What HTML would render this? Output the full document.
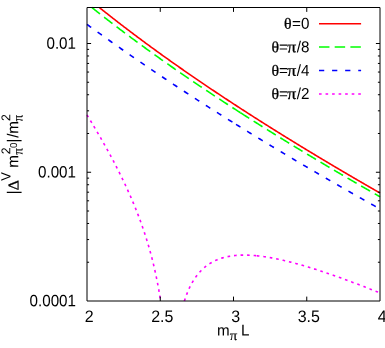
<!DOCTYPE html>
<html><head><meta charset="utf-8"><title>plot</title>
<style>html,body{margin:0;padding:0;background:#fff}svg{display:block}text{font-family:"Liberation Sans",sans-serif;fill:#000}.s{font-family:"Liberation Serif",serif;stroke:#000;stroke-width:0.3px}.t{font-family:"Liberation Serif",serif;stroke:#000;stroke-width:0.12px}</style></head><body>
<svg width="385" height="348" viewBox="0 0 385 348" style="will-change:transform">
<rect width="385" height="348" fill="#fff"/>
<path d="M99.35,7.50 L99.45,7.58 L100.18,8.17 L100.92,8.76 L101.65,9.34 L102.38,9.93 L103.11,10.51 L103.85,11.09 L104.58,11.67 L105.31,12.26 L106.04,12.84 L106.78,13.42 L107.51,13.99 L108.24,14.57 L108.97,15.15 L109.71,15.72 L110.44,16.30 L111.17,16.87 L111.90,17.45 L112.64,18.02 L113.37,18.59 L114.10,19.16 L114.83,19.73 L115.57,20.30 L116.30,20.87 L117.03,21.44 L117.76,22.01 L118.50,22.58 L119.23,23.14 L119.96,23.71 L120.69,24.27 L121.43,24.83 L122.16,25.40 L122.89,25.96 L123.62,26.52 L124.36,27.08 L125.09,27.64 L125.82,28.20 L126.56,28.76 L127.29,29.32 L128.02,29.87 L128.75,30.43 L129.49,30.98 L130.22,31.54 L130.95,32.09 L131.68,32.65 L132.42,33.20 L133.15,33.75 L133.88,34.30 L134.61,34.85 L135.35,35.40 L136.08,35.95 L136.81,36.50 L137.54,37.05 L138.28,37.59 L139.01,38.14 L139.74,38.69 L140.47,39.23 L141.21,39.77 L141.94,40.32 L142.67,40.86 L143.40,41.40 L144.14,41.94 L144.87,42.49 L145.60,43.03 L146.33,43.57 L147.07,44.10 L147.80,44.64 L148.53,45.18 L149.26,45.72 L150.00,46.25 L150.73,46.79 L151.46,47.33 L152.19,47.86 L152.93,48.39 L153.66,48.93 L154.39,49.46 L155.12,49.99 L155.86,50.52 L156.59,51.05 L157.32,51.58 L158.05,52.11 L158.79,52.64 L159.52,53.17 L160.25,53.70 L160.98,54.23 L161.71,54.75 L162.45,55.28 L163.18,55.80 L163.91,56.33 L164.65,56.85 L165.38,57.38 L166.11,57.90 L166.84,58.42 L167.57,58.94 L168.31,59.47 L169.04,59.99 L169.77,60.51 L170.51,61.03 L171.24,61.55 L171.97,62.06 L172.70,62.58 L173.43,63.10 L174.17,63.62 L174.90,64.13 L175.63,64.65 L176.36,65.16 L177.10,65.68 L177.83,66.19 L178.56,66.71 L179.29,67.22 L180.03,67.73 L180.76,68.24 L181.49,68.76 L182.22,69.27 L182.96,69.78 L183.69,70.29 L184.42,70.80 L185.15,71.31 L185.89,71.81 L186.62,72.32 L187.35,72.83 L188.08,73.34 L188.82,73.84 L189.55,74.35 L190.28,74.85 L191.01,75.36 L191.75,75.86 L192.48,76.37 L193.21,76.87 L193.94,77.37 L194.68,77.87 L195.41,78.38 L196.14,78.88 L196.88,79.38 L197.61,79.88 L198.34,80.38 L199.07,80.88 L199.81,81.38 L200.54,81.88 L201.27,82.37 L202.00,82.87 L202.74,83.37 L203.47,83.86 L204.20,84.36 L204.93,84.86 L205.67,85.35 L206.40,85.85 L207.13,86.34 L207.86,86.83 L208.60,87.33 L209.33,87.82 L210.06,88.31 L210.79,88.80 L211.53,89.30 L212.26,89.79 L212.99,90.28 L213.72,90.77 L214.46,91.26 L215.19,91.75 L215.92,92.24 L216.65,92.72 L217.39,93.21 L218.12,93.70 L218.85,94.19 L219.58,94.67 L220.32,95.16 L221.05,95.64 L221.78,96.13 L222.51,96.61 L223.25,97.10 L223.98,97.58 L224.71,98.07 L225.44,98.55 L226.18,99.03 L226.91,99.52 L227.64,100.00 L228.37,100.48 L229.10,100.96 L229.84,101.44 L230.57,101.92 L231.30,102.40 L232.04,102.88 L232.77,103.36 L233.50,103.84 L234.23,104.32 L234.96,104.79 L235.70,105.27 L236.43,105.75 L237.16,106.23 L237.90,106.70 L238.63,107.18 L239.36,107.65 L240.09,108.13 L240.82,108.60 L241.56,109.08 L242.29,109.55 L243.02,110.02 L243.76,110.50 L244.49,110.97 L245.22,111.44 L245.95,111.91 L246.68,112.39 L247.42,112.86 L248.15,113.33 L248.88,113.80 L249.62,114.27 L250.35,114.74 L251.08,115.21 L251.81,115.68 L252.54,116.15 L253.28,116.61 L254.01,117.08 L254.74,117.55 L255.48,118.02 L256.21,118.48 L256.94,118.95 L257.67,119.42 L258.40,119.88 L259.14,120.35 L259.87,120.81 L260.60,121.28 L261.33,121.74 L262.07,122.21 L262.80,122.67 L263.53,123.13 L264.26,123.60 L265.00,124.06 L265.73,124.52 L266.46,124.98 L267.19,125.44 L267.93,125.90 L268.66,126.37 L269.39,126.83 L270.12,127.29 L270.86,127.75 L271.59,128.21 L272.32,128.66 L273.06,129.12 L273.79,129.58 L274.52,130.04 L275.25,130.50 L275.99,130.96 L276.72,131.41 L277.45,131.87 L278.18,132.33 L278.92,132.78 L279.65,133.24 L280.38,133.69 L281.11,134.15 L281.85,134.60 L282.58,135.06 L283.31,135.51 L284.04,135.97 L284.77,136.42 L285.51,136.87 L286.24,137.33 L286.97,137.78 L287.71,138.23 L288.44,138.68 L289.17,139.14 L289.90,139.59 L290.63,140.04 L291.37,140.49 L292.10,140.94 L292.83,141.39 L293.57,141.84 L294.30,142.29 L295.03,142.74 L295.76,143.19 L296.49,143.64 L297.23,144.08 L297.96,144.53 L298.69,144.98 L299.43,145.43 L300.16,145.87 L300.89,146.32 L301.62,146.77 L302.35,147.21 L303.09,147.66 L303.82,148.11 L304.55,148.55 L305.29,149.00 L306.02,149.44 L306.75,149.89 L307.48,150.33 L308.21,150.77 L308.95,151.22 L309.68,151.66 L310.41,152.10 L311.15,152.55 L311.88,152.99 L312.61,153.43 L313.34,153.87 L314.07,154.31 L314.81,154.76 L315.54,155.20 L316.27,155.64 L317.01,156.08 L317.74,156.52 L318.47,156.96 L319.20,157.40 L319.93,157.84 L320.67,158.28 L321.40,158.72 L322.13,159.15 L322.87,159.59 L323.60,160.03 L324.33,160.47 L325.06,160.91 L325.79,161.34 L326.53,161.78 L327.26,162.22 L327.99,162.65 L328.73,163.09 L329.46,163.53 L330.19,163.96 L330.92,164.40 L331.65,164.83 L332.39,165.27 L333.12,165.70 L333.85,166.14 L334.58,166.57 L335.32,167.00 L336.05,167.44 L336.78,167.87 L337.51,168.30 L338.25,168.74 L338.98,169.17 L339.71,169.60 L340.44,170.03 L341.18,170.47 L341.91,170.90 L342.64,171.33 L343.38,171.76 L344.11,172.19 L344.84,172.62 L345.57,173.05 L346.31,173.48 L347.04,173.91 L347.77,174.34 L348.50,174.77 L349.24,175.20 L349.97,175.63 L350.70,176.06 L351.43,176.49 L352.17,176.91 L352.90,177.34 L353.63,177.77 L354.36,178.20 L355.10,178.62 L355.83,179.05 L356.56,179.48 L357.29,179.90 L358.03,180.33 L358.76,180.76 L359.49,181.18 L360.22,181.61 L360.96,182.03 L361.69,182.46 L362.42,182.88 L363.15,183.31 L363.88,183.73 L364.62,184.16 L365.35,184.58 L366.08,185.00 L366.81,185.43 L367.55,185.85 L368.28,186.27 L369.01,186.70 L369.74,187.12 L370.48,187.54 L371.21,187.96 L371.94,188.39 L372.68,188.81 L373.41,189.23 L374.14,189.65 L374.87,190.07 L375.60,190.49 L376.34,190.91 L377.07,191.33 L377.80,191.75 L378.54,192.17 L379.27,192.59 L380.00,193.01" fill="none" stroke="#ff0000" stroke-width="1.60"/>
<path d="M91.82,7.50 L92.13,7.74 L92.86,8.33 L93.59,8.91 L94.32,9.49 L95.06,10.07 L95.79,10.64 L96.52,11.22 L97.25,11.80 L97.99,12.37 L98.72,12.95 L99.45,13.52 L100.18,14.10 L100.92,14.67 L101.65,15.24 L102.38,15.81 L103.11,16.38 L103.85,16.95 L104.58,17.52 L105.31,18.09 L106.04,18.66 L106.78,19.22 L107.51,19.79 L108.24,20.36 L108.97,20.92 L109.71,21.48 L110.44,22.05 L111.17,22.61 L111.90,23.17 L112.64,23.73 L113.37,24.29 L114.10,24.85 L114.83,25.41 L115.57,25.97 L116.30,26.52 L117.03,27.08 L117.76,27.64 L118.50,28.19 L119.23,28.75 L119.96,29.30 L120.69,29.85 L121.43,30.40 L122.16,30.96 L122.89,31.51 L123.62,32.06 L124.36,32.61 L125.09,33.16 L125.82,33.70 L126.56,34.25 L127.29,34.80 L128.02,35.34 L128.75,35.89 L129.49,36.43 L130.22,36.98 L130.95,37.52 L131.68,38.06 L132.42,38.61 L133.15,39.15 L133.88,39.69 L134.61,40.23 L135.35,40.77 L136.08,41.31 L136.81,41.85 L137.54,42.38 L138.28,42.92 L139.01,43.46 L139.74,43.99 L140.47,44.53 L141.21,45.06 L141.94,45.60 L142.67,46.13 L143.40,46.66 L144.14,47.20 L144.87,47.73 L145.60,48.26 L146.33,48.79 L147.07,49.32 L147.80,49.85 L148.53,50.38 L149.26,50.91 L150.00,51.43 L150.73,51.96 L151.46,52.49 L152.19,53.01 L152.93,53.54 L153.66,54.06 L154.39,54.59 L155.12,55.11 L155.86,55.63 L156.59,56.15 L157.32,56.68 L158.05,57.20 L158.79,57.72 L159.52,58.24 L160.25,58.76 L160.98,59.28 L161.71,59.80 L162.45,60.31 L163.18,60.83 L163.91,61.35 L164.65,61.86 L165.38,62.38 L166.11,62.89 L166.84,63.41 L167.57,63.92 L168.31,64.44 L169.04,64.95 L169.77,65.46 L170.51,65.97 L171.24,66.49 L171.97,67.00 L172.70,67.51 L173.43,68.02 L174.17,68.53 L174.90,69.04 L175.63,69.54 L176.36,70.05 L177.10,70.56 L177.83,71.07 L178.56,71.57 L179.29,72.08 L180.03,72.58 L180.76,73.09 L181.49,73.59 L182.22,74.10 L182.96,74.60 L183.69,75.10 L184.42,75.61 L185.15,76.11 L185.89,76.61 L186.62,77.11 L187.35,77.61 L188.08,78.11 L188.82,78.61 L189.55,79.11 L190.28,79.61 L191.01,80.11 L191.75,80.61 L192.48,81.10 L193.21,81.60 L193.94,82.10 L194.68,82.59 L195.41,83.09 L196.14,83.58 L196.88,84.08 L197.61,84.57 L198.34,85.06 L199.07,85.56 L199.81,86.05 L200.54,86.54 L201.27,87.03 L202.00,87.53 L202.74,88.02 L203.47,88.51 L204.20,89.00 L204.93,89.49 L205.67,89.98 L206.40,90.46 L207.13,90.95 L207.86,91.44 L208.60,91.93 L209.33,92.42 L210.06,92.90 L210.79,93.39 L211.53,93.87 L212.26,94.36 L212.99,94.84 L213.72,95.33 L214.46,95.81 L215.19,96.30 L215.92,96.78 L216.65,97.26 L217.39,97.74 L218.12,98.23 L218.85,98.71 L219.58,99.19 L220.32,99.67 L221.05,100.15 L221.78,100.63 L222.51,101.11 L223.25,101.59 L223.98,102.07 L224.71,102.55 L225.44,103.02 L226.18,103.50 L226.91,103.98 L227.64,104.46 L228.37,104.93 L229.10,105.41 L229.84,105.88 L230.57,106.36 L231.30,106.83 L232.04,107.31 L232.77,107.78 L233.50,108.26 L234.23,108.73 L234.96,109.20 L235.70,109.67 L236.43,110.15 L237.16,110.62 L237.90,111.09 L238.63,111.56 L239.36,112.03 L240.09,112.50 L240.40,112.70" fill="none" stroke="#00ff00" stroke-width="1.60" stroke-dasharray="10.46 5.23"/>
<path d="M240.40,112.70 L240.82,112.97 L241.56,113.44 L242.29,113.91 L243.02,114.38 L243.76,114.85 L244.49,115.32 L245.22,115.78 L245.95,116.25 L246.68,116.72 L247.42,117.19 L248.15,117.65 L248.88,118.12 L249.62,118.58 L250.35,119.05 L251.08,119.51 L251.81,119.98 L252.54,120.44 L253.28,120.91 L254.01,121.37 L254.74,121.83 L255.48,122.30 L256.21,122.76 L256.94,123.22 L257.67,123.68 L258.40,124.14 L259.14,124.61 L259.87,125.07 L260.60,125.53 L261.33,125.99 L262.07,126.45 L262.80,126.91 L263.53,127.36 L264.26,127.82 L265.00,128.28 L265.73,128.74 L266.46,129.20 L267.19,129.66 L267.93,130.11 L268.66,130.57 L269.39,131.03 L270.12,131.48 L270.86,131.94 L271.59,132.39 L272.32,132.85 L273.06,133.30 L273.79,133.76 L274.52,134.21 L275.25,134.67 L275.99,135.12 L276.72,135.57 L277.45,136.03 L278.18,136.48 L278.92,136.93 L279.65,137.38 L280.38,137.84 L281.11,138.29 L281.85,138.74 L282.58,139.19 L283.31,139.64 L284.04,140.09 L284.77,140.54 L285.51,140.99 L286.24,141.44 L286.97,141.89 L287.71,142.34 L288.44,142.78 L289.17,143.23 L289.90,143.68 L290.63,144.13 L291.37,144.58 L292.10,145.02 L292.83,145.47 L293.57,145.92 L294.30,146.36 L295.03,146.81 L295.76,147.25 L296.49,147.70 L297.23,148.14 L297.96,148.59 L298.69,149.03 L299.43,149.48 L300.16,149.92 L300.89,150.36 L301.62,150.81 L302.35,151.25 L303.09,151.69 L303.82,152.13 L304.55,152.58 L305.29,153.02 L306.02,153.46 L306.75,153.90 L307.48,154.34 L308.21,154.78 L308.95,155.22 L309.68,155.66 L310.41,156.10 L311.15,156.54 L311.88,156.98 L312.61,157.42 L313.34,157.86 L314.07,158.30 L314.81,158.74 L315.54,159.18 L316.27,159.61 L317.01,160.05 L317.74,160.49 L318.47,160.92 L319.20,161.36 L319.93,161.80 L320.67,162.23 L321.40,162.67 L322.13,163.11 L322.87,163.54 L323.60,163.98 L324.33,164.41 L325.06,164.85 L325.79,165.28 L326.53,165.71 L327.26,166.15 L327.99,166.58 L328.73,167.01 L329.46,167.45 L330.19,167.88 L330.92,168.31 L331.65,168.75 L332.39,169.18 L333.12,169.61 L333.85,170.04 L334.58,170.47 L335.32,170.90 L336.05,171.33 L336.78,171.77 L337.51,172.20 L338.25,172.63 L338.98,173.06 L339.71,173.49 L340.44,173.91 L341.18,174.34 L341.91,174.77 L342.64,175.20 L343.38,175.63 L344.11,176.06 L344.84,176.49 L345.57,176.91 L346.31,177.34 L347.04,177.77 L347.77,178.20 L348.50,178.62 L349.24,179.05 L349.97,179.47 L350.70,179.90 L351.43,180.33 L352.17,180.75 L352.90,181.18 L353.63,181.60 L354.36,182.03 L355.10,182.45 L355.83,182.88 L356.56,183.30 L357.29,183.73 L358.03,184.15 L358.76,184.57 L359.49,185.00 L360.22,185.42 L360.96,185.84 L361.69,186.26 L362.42,186.69 L363.15,187.11 L363.88,187.53 L364.62,187.95 L365.35,188.37 L366.08,188.80 L366.81,189.22 L367.55,189.64 L368.28,190.06 L369.01,190.48 L369.74,190.90 L370.48,191.32 L371.21,191.74 L371.94,192.16 L372.68,192.58 L373.41,193.00 L374.14,193.42 L374.87,193.83 L375.60,194.25 L376.34,194.67 L377.07,195.09 L377.80,195.51 L378.54,195.93 L379.27,196.34 L380.00,196.76" fill="none" stroke="#00ff00" stroke-width="1.60" stroke-dasharray="10.46 5.23"/>
<path d="M87.00,24.40 L87.73,24.93 L88.46,25.47 L89.20,26.00 L89.93,26.53 L90.66,27.06 L91.39,27.60 L92.13,28.13 L92.86,28.66 L93.59,29.19 L94.32,29.72 L95.06,30.24 L95.79,30.77 L96.52,31.30 L97.25,31.83 L97.99,32.36 L98.72,32.88 L99.45,33.41 L100.18,33.93 L100.92,34.46 L101.65,34.98 L102.38,35.51 L103.11,36.03 L103.85,36.56 L104.58,37.08 L105.31,37.60 L106.04,38.12 L106.78,38.64 L107.51,39.17 L108.24,39.69 L108.97,40.21 L109.71,40.73 L110.44,41.25 L111.17,41.76 L111.90,42.28 L112.64,42.80 L113.37,43.32 L114.10,43.84 L114.83,44.35 L115.57,44.87 L116.30,45.38 L117.03,45.90 L117.76,46.41 L118.50,46.93 L119.23,47.44 L119.96,47.96 L120.69,48.47 L121.43,48.98 L122.16,49.49 L122.89,50.01 L123.62,50.52 L124.36,51.03 L125.09,51.54 L125.82,52.05 L126.56,52.56 L127.29,53.07 L128.02,53.58 L128.75,54.08 L129.49,54.59 L130.22,55.10 L130.95,55.61 L131.68,56.11 L132.42,56.62 L133.15,57.12 L133.88,57.63 L134.61,58.13 L135.35,58.64 L136.08,59.14 L136.81,59.65 L137.54,60.15 L138.28,60.65 L139.01,61.16 L139.74,61.66 L140.47,62.16 L141.21,62.66 L141.94,63.16 L142.67,63.66 L143.40,64.16 L144.14,64.66 L144.87,65.16 L145.60,65.66 L146.33,66.16 L147.07,66.65 L147.80,67.15 L148.53,67.65 L149.26,68.14 L150.00,68.64 L150.73,69.14 L151.46,69.63 L152.19,70.13 L152.93,70.62 L153.66,71.12 L154.39,71.61 L155.12,72.10 L155.86,72.60 L156.59,73.09 L157.32,73.58 L158.05,74.07 L158.79,74.56 L159.52,75.06 L160.25,75.55 L160.98,76.04 L161.71,76.53 L162.45,77.02 L163.18,77.50 L163.91,77.99 L164.65,78.48 L165.38,78.97 L166.11,79.46 L166.84,79.94 L167.57,80.43 L168.31,80.92 L169.04,81.40 L169.77,81.89 L170.51,82.37 L171.24,82.86 L171.97,83.34 L172.70,83.83 L173.43,84.31 L174.17,84.80 L174.90,85.28 L175.63,85.76 L176.36,86.24 L177.10,86.73 L177.83,87.21 L178.56,87.69 L179.29,88.17 L180.03,88.65 L180.76,89.13 L181.49,89.61 L182.22,90.09 L182.96,90.57 L183.69,91.05 L184.42,91.52 L185.15,92.00 L185.89,92.48 L186.62,92.96 L187.35,93.43 L188.08,93.91 L188.82,94.39 L189.55,94.86 L190.28,95.34 L191.01,95.81 L191.75,96.29 L192.48,96.76 L193.21,97.24 L193.94,97.71 L194.68,98.18 L195.41,98.66 L196.14,99.13 L196.88,99.60 L197.61,100.07 L198.34,100.55 L199.07,101.02 L199.81,101.49 L200.54,101.96 L201.27,102.43 L202.00,102.90 L202.74,103.37 L203.47,103.84 L204.20,104.31 L204.93,104.78 L205.67,105.24 L206.40,105.71 L207.13,106.18 L207.86,106.65 L208.60,107.11 L209.33,107.58 L210.06,108.05 L210.79,108.51 L211.53,108.98 L212.26,109.44 L212.99,109.91 L213.72,110.37 L214.46,110.84 L215.19,111.30 L215.92,111.77 L216.65,112.23 L217.39,112.69 L218.12,113.16 L218.85,113.62 L219.58,114.08 L220.32,114.54 L221.05,115.00 L221.78,115.46 L222.51,115.93 L223.25,116.39 L223.98,116.85 L224.71,117.31 L225.44,117.77 L226.18,118.23 L226.91,118.68 L227.64,119.14 L228.37,119.60 L229.10,120.06 L229.84,120.52 L230.57,120.97 L231.30,121.43 L232.04,121.89 L232.77,122.35 L233.50,122.80 L234.23,123.26 L234.96,123.71 L235.70,124.17 L236.00,124.36" fill="none" stroke="#0000ff" stroke-width="1.60" stroke-dasharray="5.23 7.85"/>
<path d="M236.00,124.36 L236.43,124.62 L237.16,125.08 L237.90,125.53 L238.63,125.99 L239.36,126.44 L240.09,126.90 L240.82,127.35 L241.56,127.80 L242.29,128.25 L243.02,128.71 L243.76,129.16 L244.49,129.61 L245.22,130.06 L245.95,130.51 L246.68,130.97 L247.42,131.42 L248.15,131.87 L248.88,132.32 L249.62,132.77 L250.35,133.22 L251.08,133.67 L251.81,134.11 L252.54,134.56 L253.28,135.01 L254.01,135.46 L254.74,135.91 L255.48,136.36 L256.21,136.80 L256.94,137.25 L257.67,137.70 L258.40,138.14 L259.14,138.59 L259.87,139.04 L260.60,139.48 L261.33,139.93 L262.07,140.37 L262.80,140.82 L263.53,141.26 L264.26,141.71 L265.00,142.15 L265.73,142.59 L266.46,143.04 L267.19,143.48 L267.93,143.92 L268.66,144.37 L269.39,144.81 L270.12,145.25 L270.86,145.69 L271.59,146.14 L272.32,146.58 L273.06,147.02 L273.79,147.46 L274.52,147.90 L275.25,148.34 L275.99,148.78 L276.72,149.22 L277.45,149.66 L278.18,150.10 L278.92,150.54 L279.65,150.98 L280.38,151.42 L281.11,151.85 L281.85,152.29 L282.58,152.73 L283.31,153.17 L284.04,153.60 L284.77,154.04 L285.51,154.48 L286.24,154.92 L286.97,155.35 L287.71,155.79 L288.44,156.22 L289.17,156.66 L289.90,157.09 L290.63,157.53 L291.37,157.97 L292.10,158.40 L292.83,158.83 L293.57,159.27 L294.30,159.70 L295.03,160.14 L295.76,160.57 L296.49,161.00 L297.23,161.44 L297.96,161.87 L298.69,162.30 L299.43,162.73 L300.16,163.16 L300.89,163.60 L301.62,164.03 L302.35,164.46 L303.09,164.89 L303.82,165.32 L304.55,165.75 L305.29,166.18 L306.02,166.61 L306.75,167.04 L307.48,167.47 L308.21,167.90 L308.95,168.33 L309.68,168.76 L310.41,169.19 L311.15,169.62 L311.88,170.05 L312.61,170.47 L313.34,170.90 L314.07,171.33 L314.81,171.76 L315.54,172.18 L316.27,172.61 L317.01,173.04 L317.74,173.46 L318.47,173.89 L319.20,174.32 L319.93,174.74 L320.67,175.17 L321.40,175.59 L322.13,176.02 L322.87,176.44 L323.60,176.87 L324.33,177.29 L325.06,177.72 L325.79,178.14 L326.53,178.56 L327.26,178.99 L327.99,179.41 L328.73,179.83 L329.46,180.26 L330.19,180.68 L330.92,181.10 L331.65,181.53 L332.39,181.95 L333.12,182.37 L333.85,182.79 L334.58,183.21 L335.32,183.63 L336.05,184.05 L336.78,184.48 L337.51,184.90 L338.25,185.32 L338.98,185.74 L339.71,186.16 L340.44,186.58 L341.18,187.00 L341.91,187.42 L342.64,187.84 L343.38,188.25 L344.11,188.67 L344.84,189.09 L345.57,189.51 L346.31,189.93 L347.04,190.35 L347.77,190.76 L348.50,191.18 L349.24,191.60 L349.97,192.02 L350.70,192.43 L351.43,192.85 L352.17,193.27 L352.90,193.68 L353.63,194.10 L354.36,194.52 L355.10,194.93 L355.83,195.35 L356.56,195.76 L357.29,196.18 L358.03,196.59 L358.76,197.01 L359.49,197.42 L360.22,197.84 L360.96,198.25 L361.69,198.66 L362.42,199.08 L363.15,199.49 L363.88,199.91 L364.62,200.32 L365.35,200.73 L366.08,201.15 L366.81,201.56 L367.55,201.97 L368.28,202.38 L369.01,202.79 L369.74,203.21 L370.48,203.62 L371.21,204.03 L371.94,204.44 L372.68,204.85 L373.41,205.26 L374.14,205.67 L374.87,206.09 L375.60,206.50 L376.34,206.91 L377.07,207.32 L377.80,207.73 L378.54,208.14 L379.27,208.55 L380.00,208.95" fill="none" stroke="#0000ff" stroke-width="1.60" stroke-dasharray="5.23 7.85"/>
<path d="M87.00,114.97 L87.73,116.16 L88.46,117.37 L89.20,118.57 L89.93,119.78 L90.66,120.99 L91.39,122.21 L92.13,123.43 L92.86,124.65 L93.59,125.88 L94.32,127.11 L95.06,128.35 L95.79,129.59 L96.52,130.83 L97.25,132.08 L97.99,133.33 L98.72,134.59 L99.45,135.86 L100.18,137.12 L100.92,138.40 L101.65,139.68 L102.38,140.96 L103.11,142.25 L103.85,143.54 L104.58,144.85 L105.31,146.15 L106.04,147.47 L106.78,148.79 L107.51,150.11 L108.24,151.44 L108.97,152.78 L109.71,154.13 L110.44,155.48 L111.17,156.85 L111.90,158.22 L112.64,159.59 L113.37,160.98 L114.10,162.37 L114.83,163.77 L115.57,165.18 L116.30,166.60 L117.03,168.03 L117.76,169.47 L118.50,170.92 L119.23,172.38 L119.96,173.85 L120.69,175.33 L121.43,176.82 L122.16,178.32 L122.89,179.84 L123.62,181.37 L124.36,182.91 L125.09,184.46 L125.82,186.03 L126.56,187.61 L127.29,189.21 L128.02,190.82 L128.75,192.45 L129.49,194.09 L130.22,195.75 L130.95,197.43 L131.68,199.13 L132.42,200.85 L133.15,202.58 L133.88,204.34 L134.61,206.12 L135.35,207.92 L136.08,209.75 L136.81,211.60 L137.54,213.47 L138.28,215.38 L139.01,217.31 L139.74,219.27 L140.47,221.26 L141.21,223.29 L141.94,225.34 L142.67,227.44 L143.40,229.57 L144.14,231.75 L144.87,233.96 L145.60,236.22 L146.33,238.53 L147.07,240.89 L147.80,243.31 L148.53,245.78 L149.26,248.32 L150.00,250.92 L150.73,253.59 L151.46,256.34 L152.19,259.17 L152.93,262.09 L153.66,265.11 L154.39,268.23 L155.12,271.47 L155.86,274.84 L156.59,278.35 L157.32,282.01 L158.05,285.85 L158.79,289.88 L159.52,294.14 L160.25,298.64 L160.61,301.00" fill="none" stroke="#ff00ff" stroke-width="1.60" stroke-dasharray="2.62 3.92"/>
<path d="M184.42,301.00 L184.42,300.99 L185.15,298.74 L185.89,296.62 L186.62,294.63 L187.35,292.75 L188.08,290.98 L188.82,289.30 L189.55,287.71 L190.28,286.21 L191.01,284.78 L191.75,283.41 L192.48,282.12 L193.21,280.88 L193.94,279.71 L194.68,278.58 L195.41,277.51 L196.14,276.48 L196.88,275.50 L197.61,274.56 L198.34,273.66 L199.07,272.80 L199.81,271.98 L200.54,271.19 L201.27,270.43 L202.00,269.70 L202.74,269.01 L203.47,268.34 L204.20,267.70 L204.93,267.08 L205.67,266.49 L206.40,265.92 L207.13,265.37 L207.86,264.85 L208.60,264.35 L209.33,263.86 L210.06,263.40 L210.79,262.96 L211.53,262.53 L212.26,262.12 L212.99,261.73 L213.72,261.35 L214.46,260.99 L215.19,260.64 L215.92,260.31 L216.65,259.99 L217.39,259.68 L218.12,259.39 L218.85,259.11 L219.58,258.84 L220.32,258.59 L221.05,258.35 L221.78,258.11 L222.51,257.89 L223.25,257.68 L223.98,257.48 L224.71,257.29 L225.44,257.11 L226.18,256.94 L226.91,256.77 L227.64,256.62 L228.37,256.48 L229.10,256.34 L229.84,256.21 L230.57,256.09 L231.30,255.98 L232.04,255.87 L232.77,255.78 L233.50,255.69 L234.23,255.60 L234.96,255.53 L235.70,255.46 L236.43,255.39 L237.16,255.34 L237.90,255.29 L238.63,255.24 L239.36,255.20 L240.09,255.17 L240.82,255.14 L241.56,255.12 L242.29,255.11 L243.02,255.10 L243.76,255.09 L244.49,255.09 L245.22,255.10 L245.95,255.11 L246.68,255.12 L247.42,255.14 L248.15,255.16 L248.88,255.19 L249.62,255.23 L250.35,255.26 L251.08,255.30 L251.81,255.35 L252.54,255.40 L253.28,255.45 L254.01,255.51 L254.74,255.57 L255.48,255.64 L256.21,255.71 L256.80,255.76" fill="none" stroke="#ff00ff" stroke-width="1.60" stroke-dasharray="2.62 3.92"/>
<path d="M256.80,255.76 L256.94,255.78 L257.67,255.85 L258.40,255.93 L259.14,256.02 L259.87,256.10 L260.60,256.19 L261.33,256.28 L262.07,256.38 L262.80,256.48 L263.53,256.58 L264.26,256.69 L265.00,256.80 L265.73,256.91 L266.46,257.02 L267.19,257.14 L267.93,257.26 L268.66,257.38 L269.39,257.51 L270.12,257.63 L270.86,257.76 L271.59,257.90 L272.32,258.03 L273.06,258.17 L273.79,258.31 L274.52,258.45 L275.25,258.60 L275.99,258.74 L276.72,258.89 L277.45,259.05 L278.18,259.20 L278.92,259.36 L279.65,259.52 L280.38,259.68 L281.11,259.84 L281.85,260.00 L282.58,260.17 L283.31,260.34 L284.04,260.51 L284.77,260.68 L285.51,260.86 L286.24,261.03 L286.97,261.21 L287.71,261.39 L288.44,261.57 L289.17,261.76 L289.90,261.94 L290.63,262.13 L291.37,262.32 L292.10,262.51 L292.83,262.70 L293.57,262.89 L294.30,263.09 L295.03,263.28 L295.76,263.48 L296.49,263.68 L297.23,263.88 L297.96,264.09 L298.69,264.29 L299.43,264.50 L300.16,264.70 L300.89,264.91 L301.62,265.12 L302.35,265.33 L303.09,265.54 L303.82,265.76 L304.55,265.97 L305.29,266.19 L306.02,266.41 L306.75,266.63 L307.48,266.85 L308.21,267.07 L308.95,267.29 L309.68,267.52 L310.41,267.74 L311.15,267.97 L311.88,268.20 L312.61,268.42 L313.34,268.65 L314.07,268.88 L314.81,269.12 L315.54,269.35 L316.27,269.58 L317.01,269.82 L317.74,270.06 L318.47,270.29 L319.20,270.53 L319.93,270.77 L320.67,271.01 L321.40,271.25 L322.13,271.49 L322.87,271.74 L323.60,271.98 L324.33,272.23 L325.06,272.47 L325.79,272.72 L326.53,272.97 L327.26,273.22 L327.99,273.47 L328.73,273.72 L329.46,273.97 L330.19,274.22 L330.92,274.47 L331.65,274.73 L332.39,274.98 L333.12,275.24 L333.85,275.49 L334.58,275.75 L335.32,276.01 L336.05,276.27 L336.78,276.53 L337.51,276.79 L338.25,277.05 L338.98,277.31 L339.71,277.57 L340.44,277.83 L341.18,278.10 L341.91,278.36 L342.64,278.63 L343.38,278.89 L344.11,279.16 L344.84,279.43 L345.57,279.70 L346.31,279.96 L347.04,280.23 L347.77,280.50 L348.50,280.77 L349.24,281.04 L349.97,281.32 L350.70,281.59 L351.43,281.86 L352.17,282.14 L352.90,282.41 L353.63,282.69 L354.36,282.96 L355.10,283.24 L355.83,283.51 L356.56,283.79 L357.29,284.07 L358.03,284.35 L358.76,284.62 L359.49,284.90 L360.22,285.18 L360.96,285.46 L361.69,285.75 L362.42,286.03 L363.15,286.31 L363.88,286.59 L364.62,286.87 L365.35,287.16 L366.08,287.44 L366.81,287.73 L367.55,288.01 L368.28,288.30 L369.01,288.58 L369.74,288.87 L370.48,289.16 L371.21,289.44 L371.94,289.73 L372.68,290.02 L373.41,290.31 L374.14,290.60 L374.87,290.89 L375.60,291.18 L376.34,291.47 L377.07,291.76 L377.80,292.05 L378.54,292.34 L379.27,292.63 L380.00,292.93" fill="none" stroke="#ff00ff" stroke-width="1.60" stroke-dasharray="2.62 3.92"/>
<path d="M319.00,23.70 L361.10,23.70" fill="none" stroke="#ff0000" stroke-width="1.60"/>
<path d="M319.00,47.05 L361.10,47.05" fill="none" stroke="#00ff00" stroke-width="1.60" stroke-dasharray="10.46 5.23"/>
<path d="M319.00,70.50 L361.10,70.50" fill="none" stroke="#0000ff" stroke-width="1.60" stroke-dasharray="5.23 7.85"/>
<path d="M319.00,93.95 L361.10,93.95" fill="none" stroke="#ff00ff" stroke-width="1.60" stroke-dasharray="2.62 3.92"/>
<g stroke="#000" stroke-width="1" fill="none">
<path d="M87.00,7.50 H380.00 V301.00 H87.00 Z"/>
<path d="M160.25,301.00 v-4.40 M160.25,7.50 v4.40"/>
<path d="M233.50,301.00 v-4.40 M233.50,7.50 v4.40"/>
<path d="M306.75,301.00 v-4.40 M306.75,7.50 v4.40"/>
<path d="M87.00,262.24 h2.10 M380.00,262.24 h-2.10"/>
<path d="M87.00,239.57 h2.10 M380.00,239.57 h-2.10"/>
<path d="M87.00,223.48 h2.10 M380.00,223.48 h-2.10"/>
<path d="M87.00,211.01 h2.10 M380.00,211.01 h-2.10"/>
<path d="M87.00,200.81 h2.10 M380.00,200.81 h-2.10"/>
<path d="M87.00,192.19 h2.10 M380.00,192.19 h-2.10"/>
<path d="M87.00,184.73 h2.10 M380.00,184.73 h-2.10"/>
<path d="M87.00,178.14 h2.10 M380.00,178.14 h-2.10"/>
<path d="M87.00,172.25 h4.10 M380.00,172.25 h-4.10"/>
<path d="M87.00,133.49 h2.10 M380.00,133.49 h-2.10"/>
<path d="M87.00,110.82 h2.10 M380.00,110.82 h-2.10"/>
<path d="M87.00,94.73 h2.10 M380.00,94.73 h-2.10"/>
<path d="M87.00,82.26 h2.10 M380.00,82.26 h-2.10"/>
<path d="M87.00,72.06 h2.10 M380.00,72.06 h-2.10"/>
<path d="M87.00,63.44 h2.10 M380.00,63.44 h-2.10"/>
<path d="M87.00,55.98 h2.10 M380.00,55.98 h-2.10"/>
<path d="M87.00,49.39 h2.10 M380.00,49.39 h-2.10"/>
<path d="M87.00,43.50 h4.10 M380.00,43.50 h-4.10"/>
</g>
<text class="s" font-size="15.80" transform="translate(284.10 28.85) rotate(0.05) scale(1.000 0.980)">θ</text>
<text font-size="15.20" transform="translate(291.90 28.85) rotate(0.05) scale(1.000 1.040)">=</text>
<text font-size="15.20" transform="translate(300.90 28.85) rotate(0.05) scale(1.000 1.040)">0</text>
<text class="s" font-size="15.80" transform="translate(271.60 52.20) rotate(0.05) scale(1.000 0.980)">θ</text>
<text font-size="15.20" transform="translate(278.95 52.20) rotate(0.05) scale(1.000 1.040)">=</text>
<text class="s" font-size="17.80" transform="translate(287.30 52.20) rotate(0.05) scale(1.000 0.930)">π</text>
<text font-size="15.20" transform="translate(296.70 52.20) rotate(0.05) scale(1.000 1.040)">/8</text>
<text class="s" font-size="15.80" transform="translate(271.60 75.65) rotate(0.05) scale(1.000 0.980)">θ</text>
<text font-size="15.20" transform="translate(278.95 75.65) rotate(0.05) scale(1.000 1.040)">=</text>
<text class="s" font-size="17.80" transform="translate(287.30 75.65) rotate(0.05) scale(1.000 0.930)">π</text>
<text font-size="15.20" transform="translate(296.70 75.65) rotate(0.05) scale(1.000 1.040)">/4</text>
<text class="s" font-size="15.80" transform="translate(271.60 99.10) rotate(0.05) scale(1.000 0.980)">θ</text>
<text font-size="15.20" transform="translate(278.95 99.10) rotate(0.05) scale(1.000 1.040)">=</text>
<text class="s" font-size="17.80" transform="translate(287.30 99.10) rotate(0.05) scale(1.000 0.930)">π</text>
<text font-size="15.20" transform="translate(296.70 99.10) rotate(0.05) scale(1.000 1.040)">/2</text>
<text font-size="15.20" text-anchor="end" transform="translate(76.00 48.80) rotate(0.05) scale(1.000 1.090)">0.01</text>
<text font-size="15.20" text-anchor="end" transform="translate(76.00 177.55) rotate(0.05) scale(1.000 1.090)">0.001</text>
<text font-size="15.20" text-anchor="end" transform="translate(76.00 306.30) rotate(0.05) scale(1.000 1.090)">0.0001</text>
<text font-size="16.00" text-anchor="middle" transform="translate(89.10 322.00) rotate(0.05) scale(1.000 1.040)">2</text>
<text font-size="16.00" text-anchor="middle" transform="translate(162.35 322.00) rotate(0.05) scale(1.000 1.040)">2.5</text>
<text font-size="16.00" text-anchor="middle" transform="translate(235.60 322.00) rotate(0.05) scale(1.000 1.040)">3</text>
<text font-size="16.00" text-anchor="middle" transform="translate(308.85 322.00) rotate(0.05) scale(1.000 1.040)">3.5</text>
<text font-size="16.00" text-anchor="middle" transform="translate(382.10 322.00) rotate(0.05) scale(1.000 1.040)">4</text>
<text font-size="15.20" transform="translate(217.00 335.40) rotate(0.05) scale(1.000 1.020)">m</text>
<text class="t" font-size="15.00" transform="translate(229.70 340.00) rotate(0.05) scale(1.000 0.940)">π</text>
<text font-size="15.20" transform="translate(241.00 335.40) rotate(0.05) scale(1.000 1.040)">L</text>
<text transform="translate(18.35,194.20) rotate(-89.95) scale(1.000 1.040)" font-size="15.20">|</text>
<text class="s" transform="translate(18.55,190.30) rotate(-89.95) scale(1.000 0.960)" font-size="15.80">Δ</text>
<text transform="translate(10.55,180.75) rotate(-89.95) scale(1.000 1.040)" font-size="13.00">V</text>
<text transform="translate(18.35,167.85) rotate(-89.95) scale(1.000 1.040)" font-size="15.20">m</text>
<text transform="translate(10.20,154.30) rotate(-89.95) scale(1.000 1.040)" font-size="12.20">2</text>
<text class="t" transform="translate(22.40,154.80) rotate(-89.95) scale(1.000 1.040)" font-size="13.40">π</text>
<text transform="translate(16.90,147.90) rotate(-89.95) scale(1.000 1.040)" font-size="9.70">0</text>
<text transform="translate(18.35,142.50) rotate(-89.95) scale(1.000 1.040)" font-size="15.20">|</text>
<text transform="translate(18.35,137.87) rotate(-89.95) scale(1.000 1.040)" font-size="15.20">/m</text>
<text transform="translate(10.20,121.05) rotate(-89.95) scale(1.000 1.040)" font-size="12.20">2</text>
<text class="t" transform="translate(22.40,121.50) rotate(-89.95) scale(1.000 1.040)" font-size="13.40">π</text>
</svg></body></html>
